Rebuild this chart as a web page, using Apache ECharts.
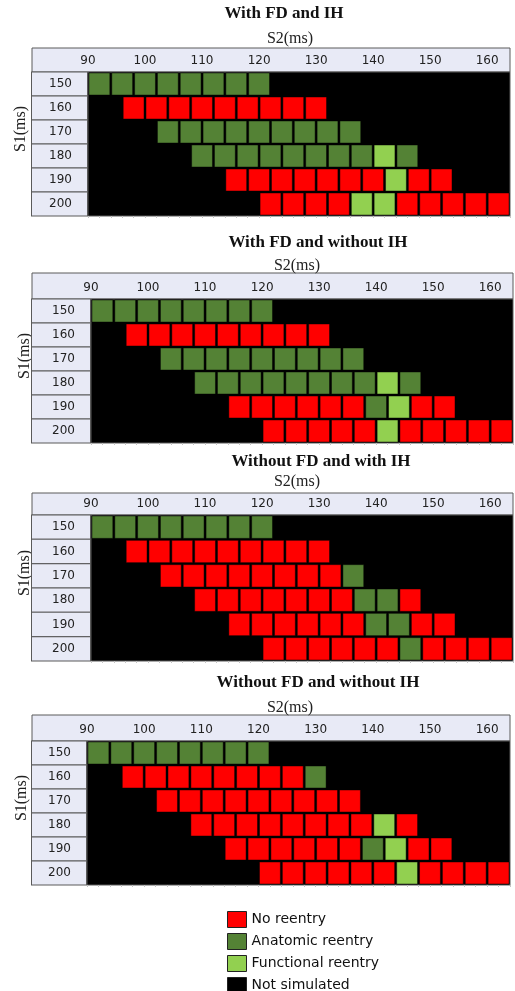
<!DOCTYPE html>
<html>
<head>
<meta charset="utf-8">
<script src="https://cdn.jsdelivr.net/npm/echarts@6/dist/echarts.min.js"></script>
<style>
  html, body { margin: 0; padding: 0; background: #fff; }
  #chart { width: 515px; height: 991px; }
</style>
</head>
<body>
<div id="chart"></div>
<script>
// S1 basic cycle lengths (rows) and the S2 grid tested for each of them
const S1_VALUES = ['150', '160', '170', '180', '190', '200'];
const S2_FIRST = [90, 96, 102, 108, 114, 120];   // first S2 (ms) tested for each S1
const S2_STEP = 4;                               // S2 increment (ms)
const S2_TICKS = [90, 100, 110, 120, 130, 140, 150, 160];

// Outcome per S2 step: R = no reentry, A = anatomic reentry, F = functional reentry
const withFdWithIh = [
  'AAAAAAAA',
  'RRRRRRRRR',
  'AAAAAAAAA',
  'AAAAAAAAFA',
  'RRRRRRRFRR',
  'RRRRFFRRRRR'
];
const withFdWithoutIh = [
  'AAAAAAAA',
  'RRRRRRRRR',
  'AAAAAAAAA',
  'AAAAAAAAFA',
  'RRRRRRAFRR',
  'RRRRRFRRRRR'
];
const withoutFdWithIh = [
  'AAAAAAAA',
  'RRRRRRRRR',
  'RRRRRRRRA',
  'RRRRRRRAAR',
  'RRRRRRAARR',
  'RRRRRRARRRR'
];
const withoutFdWithoutIh = [
  'AAAAAAAA',
  'RRRRRRRRA',
  'RRRRRRRRR',
  'RRRRRRRRFR',
  'RRRRRRAFRR',
  'RRRRRRFRRRR'
];

const PANEL_TITLES = [
  'With FD and IH',
  'With FD and without IH',
  'Without FD and with IH',
  'Without FD and without IH'
];
const PANEL_DATA = [withFdWithIh, withFdWithoutIh, withoutFdWithIh, withoutFdWithoutIh];

const OUTCOMES = [
  { code: 'R', name: 'No reentry', color: '#FF0000' },
  { code: 'A', name: 'Anatomic reentry', color: '#548235' },
  { code: 'F', name: 'Functional reentry', color: '#92D050' }
];
const NOT_SIMULATED = { name: 'Not simulated', color: '#000000' };

// Page layout of the four tables
const LAYOUT = [
  { left: 88, rightX: 510, top: 72, height: 144, headTop: 48, titleX: 284, titleY: 14, s2X: 290, s1X: 21, s1Shift: 15 },
  { left: 91, rightX: 513, top: 299, height: 144, headTop: 273, titleX: 318, titleY: 243, s2X: 297, s1X: 25, s1Shift: 15 },
  { left: 91, rightX: 513, top: 515, height: 146, headTop: 493, titleX: 321, titleY: 462, s2X: 297, s1X: 25, s1Shift: 15 },
  { left: 87, rightX: 510, top: 741, height: 144, headTop: 715, titleX: 318, titleY: 683, s2X: 290, s1X: 22, s1Shift: 15 }
];
const TABLE_LEFT = 32;
const HEAD_FILL = '#E8EAF6';
const LINE = '#5a5a5a';
const S2_MIN = 90, S2_MAX = 164;

function renderCell(params, api) {
  const s2 = api.value(0);
  const row = api.value(1);
  const a = api.coord([s2, row]);
  const b = api.coord([s2 + S2_STEP, row]);
  const band = api.size([0, 1])[1];
  return {
    type: 'rect',
    shape: { x: a[0] + 1, y: a[1] - band / 2 + 1, width: b[0] - a[0] - 2, height: band - 2 },
    style: { fill: api.visual('color'), stroke: 'rgba(0,0,0,0.45)', lineWidth: 1 }
  };
}

const grids = [], xAxes = [], yAxes = [], series = [], titles = [], graphics = [];

LAYOUT.forEach((L, p) => {
  grids.push({
    left: L.left, width: L.rightX - L.left, top: L.top, height: L.height,
    outerBoundsMode: 'none', containLabel: false,
    show: true, backgroundColor: '#000', borderColor: LINE, borderWidth: 1
  });
  // S2 scale with its labels in the header band
  xAxes.push({
    gridIndex: p, type: 'value', position: 'top',
    min: S2_MIN, max: S2_MAX, interval: 10,
    name: 'S2(ms)', nameLocation: 'middle', nameGap: 25, nameMoveOverlap: false,
    nameTextStyle: {
      fontFamily: 'Liberation Serif', fontSize: 16, color: '#222',
      padding: [0, 2 * ((L.left + L.rightX) / 2 - L.s2X), 0, 0]
    },
    splitLine: { show: false },
    axisLine: { show: false },
    axisTick: { show: false },
    axisLabel: {
      margin: 5, fontFamily: 'DejaVu Sans', fontSize: 12, color: '#222',
      hideOverlap: false,
      formatter: v => (S2_TICKS.indexOf(v) >= 0 ? String(v) : '')
    }
  });
  const boxW = L.left - 1 - TABLE_LEFT;
  yAxes.push({
    gridIndex: p, type: 'category', data: S1_VALUES, inverse: true,
    name: 'S1(ms)', nameLocation: 'middle', nameGap: L.left - L.s1X - 8, nameRotate: 90,
    nameMoveOverlap: false,
    nameTextStyle: {
      fontFamily: 'Liberation Serif', fontSize: 16, color: '#222',
      padding: [0, 0, 0, 2 * L.s1Shift]
    },
    axisLine: { show: false },
    axisTick: { show: false },
    axisLabel: {
      interval: 0, showMinLabel: true, showMaxLabel: true, hideOverlap: false,
      margin: 1, fontFamily: 'DejaVu Sans', fontSize: 12, color: '#222',
      align: 'right', width: boxW - 17, height: L.height / 6 - 1, lineHeight: L.height / 6 - 1,
      padding: [0, 15, 0, 2],
      backgroundColor: HEAD_FILL, borderColor: LINE, borderWidth: 1
    }
  });
  titles.push({
    text: PANEL_TITLES[p], left: L.titleX, top: L.titleY - 9, textAlign: 'center', padding: 0,
    textStyle: { fontFamily: 'Liberation Serif', fontWeight: 'bold', fontSize: 17, color: '#111' }
  });
  graphics.push({
    type: 'rect', z: -10, silent: true,
    shape: { x: TABLE_LEFT, y: L.headTop, width: L.rightX - TABLE_LEFT, height: L.top - L.headTop },
    style: { fill: HEAD_FILL, stroke: LINE, lineWidth: 1 }
  });

  // one custom series per outcome so the legend can list them
  const rows = PANEL_DATA[p];
  OUTCOMES.forEach(o => {
    const data = [];
    rows.forEach((codes, r) => {
      codes.split('').forEach((c, i) => {
        if (c === o.code) data.push([S2_FIRST[r] + i * S2_STEP, S1_VALUES[r]]);
      });
    });
    series.push({
      type: 'custom', name: o.name, xAxisIndex: p, yAxisIndex: p,
      itemStyle: { color: o.color }, renderItem: renderCell, data: data,
      encode: { x: 0, y: 1 }, silent: true
    });
  });
});

// faint column stubs under each table (2 ms spacing)
LAYOUT.forEach((L, p) => {
  xAxes.push({
    gridIndex: p, type: 'value', position: 'bottom',
    min: S2_MIN, max: S2_MAX, interval: 10,
    splitLine: { show: false },
    axisLine: { show: false },
    axisLabel: { show: false },
    axisTick: { show: true, length: 2, lineStyle: { color: '#c4c4c4' } },
    minorTick: { show: true, splitNumber: 5, length: 2, lineStyle: { color: '#c4c4c4' } }
  });
});

// empty series: the black background stands for untested combinations
series.push({
  type: 'custom', name: NOT_SIMULATED.name, xAxisIndex: 0, yAxisIndex: 0,
  itemStyle: { color: NOT_SIMULATED.color }, renderItem: renderCell, data: []
});

const chart = echarts.init(document.getElementById('chart'), null, { renderer: 'canvas' });
chart.setOption({
  animation: false,
  backgroundColor: '#fff',
  title: titles,
  grid: grids,
  xAxis: xAxes,
  yAxis: yAxes,
  series: series,
  graphic: graphics,
  legend: {
    orient: 'vertical', left: 227, top: 911, height: 120, padding: 0,
    itemWidth: 19, itemHeight: 16, itemGap: 5, icon: 'rect', selectedMode: false,
    itemStyle: { borderColor: '#222', borderWidth: 1 },
    textStyle: { fontFamily: 'DejaVu Sans', fontSize: 14, lineHeight: 16, color: '#111', padding: 0 },
    data: OUTCOMES.map(o => o.name).concat([NOT_SIMULATED.name])
  }
});
</script>
</body>
</html>
